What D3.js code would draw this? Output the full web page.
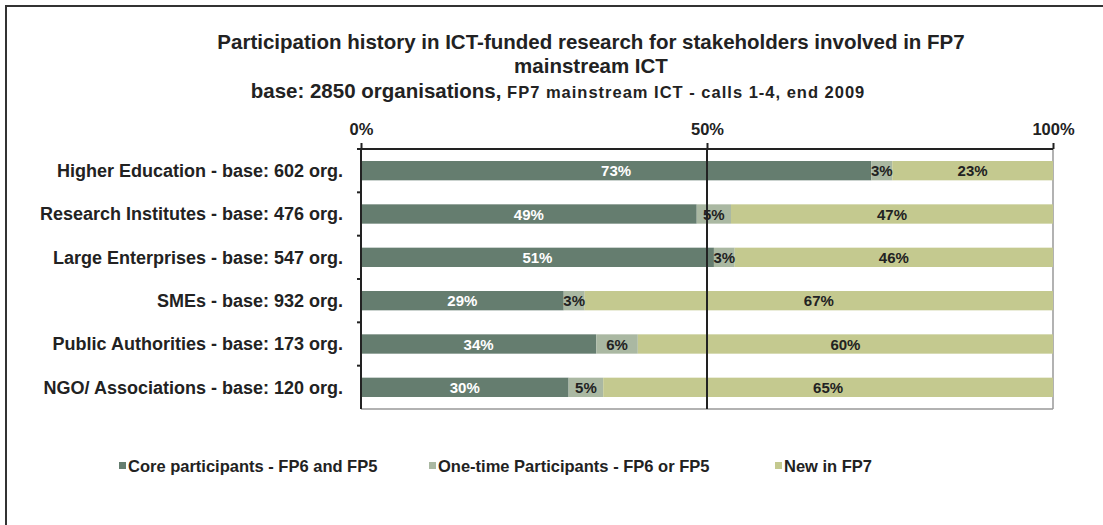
<!DOCTYPE html>
<html lang="en">
<head>
    <meta charset="utf-8">
    <title>Participation history</title>
    <script src="https://d3js.org/d3.v7.min.js"></script>
    <style type="text/css">
        body{
            margin: 0;
            background: #fff;
        }
        svg text{
            font-family: "Liberation Sans", Arial, sans-serif;
            font-weight: bold;
        }
    </style>
</head>
<body>
    <div id="frame"></div>
    <script type="text/javascript">

        // data
        const categories = [
            "Higher Education - base: 602 org.",
            "Research Institutes - base: 476 org.",
            "Large Enterprises - base: 547 org.",
            "SMEs - base: 932 org.",
            "Public Authorities - base: 173 org.",
            "NGO/ Associations - base: 120 org."
        ];
        const coreValues = [73, 49, 51, 29, 34, 30];
        const oneTimeValues = [3, 5, 3, 3, 6, 5];
        const newValues = [23, 47, 46, 67, 60, 65];
        const seriesNames = ["Core participants - FP6 and FP5", "One-time Participants - FP6 or FP5", "New in FP7"];
        const tickValues = [0, 0.5, 1];

        const w = 1103, h = 525;
        const myColor = ["#657d6f", "#aab8a2", "#c4c98f"];
        const labelColor = ["#ffffff", "#222222", "#222222"];

        const svg = d3.select("#frame").append("svg")
            .attr("width", w)
            .attr("height", h);

        // outer frame (only top and left visible)
        svg.append("rect")
            .attr("x", 6).attr("y", 6)
            .attr("width", w + 20).attr("height", h + 20)
            .attr("fill", "none")
            .attr("stroke", "#333")
            .attr("stroke-width", 2);

        // title
        const title = svg.append("text")
            .attr("text-anchor", "middle")
            .attr("fill", "#222");
        title.append("tspan").attr("x", 591).attr("y", 49)
            .style("font-size", "20.5px")
            .text("Participation history in ICT-funded research for stakeholders involved in FP7");
        title.append("tspan").attr("x", 591).attr("y", 73)
            .style("font-size", "20.5px")
            .text("mainstream ICT");
        const sub = title.append("tspan").attr("x", 558).attr("y", 98);
        sub.append("tspan").style("font-size", "20.5px").text("base: 2850 organisations, ");
        sub.append("tspan").style("font-size", "16.5px").style("letter-spacing", "1px")
            .text("FP7 mainstream ICT - calls 1-4, end 2009");

        // scales
        const pLeft = 361, pRight = 1053, pTop = 149, pBottom = 409;
        const x = d3.scaleLinear().domain([0, 1]).range([pLeft, pRight]);
        const y = d3.scaleBand().domain(categories).range([pTop, pBottom]).paddingInner(0.6).paddingOuter(0.3);
        const yb = d3.scaleBand().domain(categories).range([pTop, pBottom]);

        // stacked data normalised to 100%
        const rows = categories.map((c, i) => {
            const vals = [coreValues[i], oneTimeValues[i], newValues[i]];
            const total = d3.sum(vals);
            let acc = 0;
            return vals.map((v, k) => {
                const seg = {cat: c, k: k, v: v, x0: acc / total, x1: (acc + v) / total};
                acc += v;
                return seg;
            });
        });

        // frame lines on right / bottom
        svg.append("line")
            .attr("x1", pRight).attr("x2", pRight).attr("y1", pTop).attr("y2", pBottom)
            .attr("stroke", "#999").attr("stroke-width", 1.5);
        svg.append("line")
            .attr("x1", pLeft).attr("x2", pRight).attr("y1", pBottom).attr("y2", pBottom)
            .attr("stroke", "#999").attr("stroke-width", 1.5);

        // bars
        const groups = svg.selectAll("g.row")
            .data(rows)
            .enter()
            .append("g")
            .attr("class", "row");

        groups.selectAll("rect")
            .data(d => d)
            .enter()
            .append("rect")
            .attr("x", d => x(d.x0))
            .attr("width", d => x(d.x1) - x(d.x0))
            .attr("y", d => y(d.cat) - 1)
            .attr("height", y.bandwidth() + 2)
            .attr("fill", d => myColor[d.k]);

        groups.selectAll("text")
            .data(d => d)
            .enter()
            .append("text")
            .attr("x", d => (x(d.x0) + x(d.x1)) / 2)
            .attr("y", d => y(d.cat) + y.bandwidth() / 2 + 5.5)
            .attr("text-anchor", "middle")
            .attr("fill", d => labelColor[d.k])
            .style("font-size", "15px")
            .text(d => d.v + "%");

        // 50% gridline
        svg.append("line")
            .attr("x1", x(0.5)).attr("x2", x(0.5)).attr("y1", pTop).attr("y2", pBottom)
            .attr("stroke", "#222").attr("stroke-width", 2);

        // top axis
        const xAxis = svg.append("g")
            .attr("transform", "translate(0," + pTop + ")")
            .call(d3.axisTop(x).tickValues(tickValues).tickFormat(d3.format(".0%")).tickSize(6).tickSizeOuter(0));
        xAxis.select(".domain").attr("stroke", "#222").attr("stroke-width", 2).attr("d", "M" + (pLeft - 4) + ",0H" + pRight);
        xAxis.selectAll(".tick line").attr("stroke", "#222").attr("stroke-width", 2);
        xAxis.selectAll(".tick text")
            .attr("fill", "#222")
            .attr("y", -14)
            .style("font-size", "16.5px");

        // left axis
        const yAxis = svg.append("g")
            .attr("transform", "translate(" + pLeft + ",0)")
            .call(d3.axisLeft(y).tickSize(0).tickPadding(18));
        yAxis.select(".domain").attr("stroke", "#222").attr("stroke-width", 2).attr("d", "M0," + pTop + "V" + pBottom);
        yAxis.selectAll(".tick text")
            .attr("fill", "#222")
            .attr("dy", "0.35em")
            .style("font-size", "18px");
        // band boundary ticks
        yAxis.selectAll("line.band")
            .data(categories.slice(1))
            .enter()
            .append("line")
            .attr("class", "band")
            .attr("x1", -4).attr("x2", 0)
            .attr("y1", d => yb(d)).attr("y2", d => yb(d))
            .attr("stroke", "#222").attr("stroke-width", 2);

        // legend
        const legendX = [119, 429, 775];
        const legend = svg.selectAll("g.legend")
            .data(seriesNames)
            .enter()
            .append("g")
            .attr("class", "legend")
            .attr("transform", (d, i) => "translate(" + legendX[i] + ",466)");
        legend.append("rect")
            .attr("x", 0).attr("y", -4)
            .attr("width", 7).attr("height", 7)
            .attr("fill", (d, i) => myColor[i]);
        legend.append("text")
            .attr("x", 9).attr("y", 6)
            .attr("fill", "#222")
            .style("font-size", "16.5px")
            .text(d => d);

    </script>
</body>
</html>
